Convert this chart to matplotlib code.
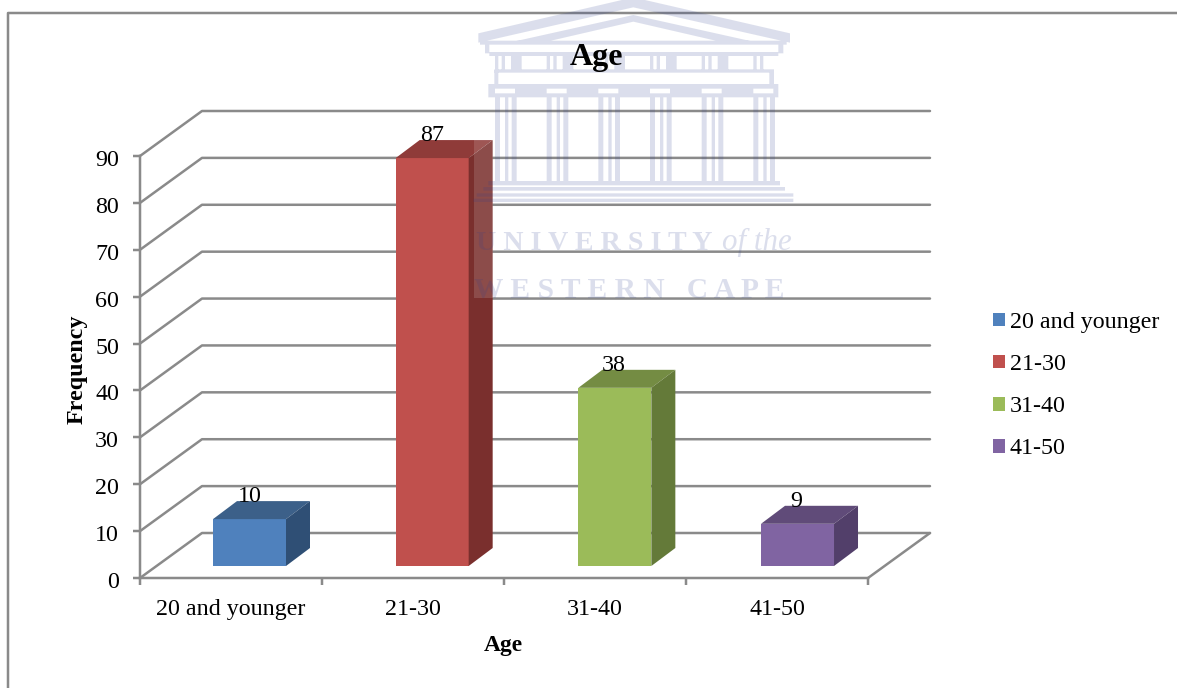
import matplotlib
matplotlib.use("Agg")
import matplotlib.pyplot as plt
from matplotlib.patches import Patch, PathPatch, Rectangle
from matplotlib.path import Path
from matplotlib.transforms import ScaledTranslation

categories = ["20 and younger", "21-30", "31-40", "41-50"]
frequency = [10, 87, 38, 9]
y_ticks = [0, 10, 20, 30, 40, 50, 60, 70, 80, 90]

face_colors = ["#4f81bd", "#c0504d", "#9bbb59", "#8064a2"]
top_colors = ["#3c6089", "#8f3b39", "#748c43", "#604b79"]
side_colors = ["#2f4f75", "#7a2f2d", "#647a39", "#523f6a"]

GRID = "#8a8a8a"
W, H = 1177, 688
PX = 0.72  # points per pixel at 100 dpi
LINE = 2.5 * PX

plt.rcParams["font.family"] = ["Liberation Serif", "DejaVu Serif"]

fig = plt.figure(figsize=(W / 100, H / 100), dpi=100, facecolor="white")

# Plot area: the front plane of the 3D box, in data units
L, R, T, B = 140, 868, 156, 578
ax = fig.add_axes([L / W, 1 - B / H, (R - L) / W, (B - T) / H], facecolor="none", zorder=2)
ax.set_xlim(0, 4)
ax.set_ylim(0, 90)
ux = (R - L) / 4      # pixels per category
uy = (B - T) / 90     # pixels per frequency unit

# Box depth and bar offsets, in data units
wall_dx, wall_dy = 62 / ux, 45 / uy
bar_dx, bar_dy = 24 / ux, 18 / uy
bar_width = 73 / ux
bar_lift = 12 / uy
bar_start = 73 / ux
bar_pitch = 182.67 / ux

line_kw = dict(color=GRID, lw=LINE, clip_on=False, solid_capstyle="round", zorder=1)

# Back wall gridlines with their diagonal returns on the left wall
for v in y_ticks:
    ax.plot([0, wall_dx, 4 + wall_dx], [v, v + wall_dy, v + wall_dy], **line_kw)

# Right edge of the floor
ax.plot([4, 4 + wall_dx], [0, wall_dy], **line_kw)

# Bars as front, top and side faces
for i, value in enumerate(frequency):
    x0 = i * bar_pitch + bar_start
    x1 = x0 + bar_width
    y0 = bar_lift
    y1 = bar_lift + value
    ax.bar(x0, value, width=bar_width, bottom=y0, align="edge",
           color=face_colors[i], zorder=3, clip_on=False)
    ax.fill([x0, x1, x1 + bar_dx, x0 + bar_dx], [y1, y1, y1 + bar_dy, y1 + bar_dy],
            color=top_colors[i], lw=0, zorder=3, clip_on=False)
    ax.fill([x1, x1 + bar_dx, x1 + bar_dx, x1], [y0, y0 + bar_dy, y1 + bar_dy, y1],
            color=side_colors[i], lw=0, zorder=3, clip_on=False)
    ax.text(i + 0.5 + 19 / ux, y1 + bar_dy - 0.2, str(value), ha="center", va="baseline",
            fontsize=24 * PX, color="black", zorder=6, clip_on=False)

# Axes, ticks and labels
for side in ("top", "right"):
    ax.spines[side].set_visible(False)
for side in ("left", "bottom"):
    ax.spines[side].set_color(GRID)
    ax.spines[side].set_linewidth(LINE)
    ax.spines[side].set_zorder(2)

ax.set_yticks(y_ticks)
ax.set_yticklabels([str(v) for v in y_ticks], fontsize=24 * PX)
ax.tick_params(axis="y", length=7 * PX, width=LINE, color=GRID, pad=14 * PX)
nudge = ScaledTranslation(0, -2 / 100, fig.dpi_scale_trans)
for label in ax.get_yticklabels():
    label.set_transform(label.get_transform() + nudge)
ax.set_xticks(range(5))
ax.set_xticklabels([])
ax.tick_params(axis="x", which="major", length=7 * PX, width=LINE, color=GRID)
ax.set_xticks([i + 0.5 for i in range(4)], minor=True)
ax.set_xticklabels(categories, minor=True, fontsize=24 * PX)
ax.tick_params(axis="x", which="minor", length=0, pad=21 * PX)

fig.text(503.5 / W, 1 - 646 / H, "Age", ha="center", va="center",
         fontsize=23.5 * PX, fontweight="bold")
fig.text(77 / W, 1 - 369 / H, "Frequency", ha="center", va="center", rotation=90,
         fontsize=24 * PX, fontweight="bold")
fig.text(597 / W, 1 - 58 / H, "Age", ha="center", va="center", zorder=8,
         fontsize=32 * PX, fontweight="bold")

# Legend
handles = [Patch(facecolor=c, edgecolor="none", label=n) for c, n in zip(face_colors, categories)]
fig.legend(handles=handles, loc="upper left", bbox_to_anchor=(993 / W, 1 - 312 / H),
           frameon=False, fontsize=24 * PX, handlelength=0.5, handleheight=0.5,
           handletextpad=0.2, labelspacing=0.88, borderpad=0, borderaxespad=0)

# Overlay in pixel coordinates: page frame and the crest behind the chart title
over = fig.add_axes([0, 0, 1, 1], facecolor="none", zorder=5)
over.set_xlim(0, W)
over.set_ylim(H, 0)
over.axis("off")

over.plot([8, 8, W], [H, 13, 13], color=GRID, lw=LINE, clip_on=False, zorder=1)
over.add_patch(Rectangle((474, 138), 19, 160, facecolor="white", alpha=0.14, lw=0, zorder=2))


def z(x, y):
    # Crest outline is laid out on a 3x grid starting at x = 460
    return (460 + x / 3, y / 3)


def box(x0, y0, x1, y1):
    return [z(x0, y0), z(x1, y0), z(x1, y1), z(x0, y1)]


shapes = [
    # Roof bands
    [z(55, 100), z(520, -8), z(990, 100), z(990, 128), z(520, 22), z(55, 128)],
    [z(160, 125), z(520, 45), z(880, 125), z(780, 125), z(520, 65), z(260, 125)],
    box(60, 122, 980, 134),
    # Cornice outline
    box(75, 134, 88, 160), box(955, 134, 970, 160), box(88, 156, 955, 168),
    # Architrave sides and lower band
    box(103, 210, 115, 255), box(928, 210, 942, 255), box(103, 208, 942, 218),
    box(85, 252, 955, 266), box(85, 266, 105, 292), box(940, 266, 955, 292),
    # Base steps
    box(85, 543, 960, 556), box(70, 561, 975, 572), box(50, 580, 1000, 590),
    box(40, 596, 1000, 606),
]

# Frieze stripes and colonnade, one group per column
for k in range(6):
    b = 105 + 155 * k
    shapes += [box(b, 166, b + 10, 210), box(b + 20, 166, b + 30, 210)]
    if k < 5:
        shapes += [box(b + 48, 166, b + 80, 210)]
        shapes += [box(b + 60, 266, b + 155, 292)]
    shapes += [box(b, 280, b + 60, 292)]
    for dx, wd in ((0, 15), (30, 10), (50, 15)):
        shapes.append(box(b + dx, 292, b + dx + wd, 545))

verts, codes = [], []
for poly in shapes:
    verts += poly + [poly[0]]
    codes += [Path.MOVETO] + [Path.LINETO] * (len(poly) - 1) + [Path.CLOSEPOLY]
over.add_patch(PathPatch(Path(verts, codes), facecolor="#2f4090", edgecolor="none",
                         alpha=0.17, zorder=3, clip_on=True))

mark = dict(color="#2f4090", alpha=0.17, va="baseline", ha="left", zorder=3)
over.text(476, 250, "U N I V E R S I T Y", fontsize=28 * PX, fontweight="bold", **mark)
over.text(722, 250, "of the", fontsize=31 * PX, fontstyle="italic", **mark)
over.text(474, 298, "W E S T E R N   C A P E", fontsize=29.5 * PX, fontweight="bold", **mark)

fig.savefig("out.png", dpi=100)
